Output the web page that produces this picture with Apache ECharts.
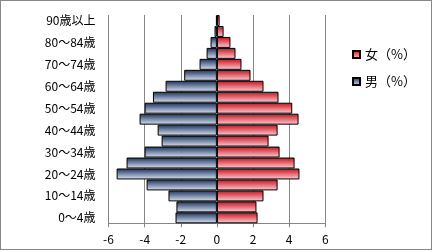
<!DOCTYPE html>
<html><head><meta charset="utf-8">
<script src="https://cdn.jsdelivr.net/npm/echarts@6/dist/echarts.min.js"></script>
<style>
html,body{margin:0;padding:0;background:#fff;}
#frame{position:absolute;left:0;top:0;width:432px;height:250px;box-sizing:border-box;border:1.5px solid #878787;}
#c{position:absolute;left:0;top:0;width:433px;height:252px;}
</style></head>
<body><div id="frame"></div><div id="c"></div>
<script>
const categories = ['0～4歳','5～9歳','10～14歳','15～19歳','20～24歳','25～29歳','30～34歳','35～39歳','40～44歳','45～49歳','50～54歳','55～59歳','60～64歳','65～69歳','70～74歳','75～79歳','80～84歳','85～89歳','90歳以上'];
const femaleValues = [2.25,2.19,2.58,3.36,4.57,4.30,3.47,2.86,3.36,4.52,4.17,3.41,2.58,1.86,1.36,1.03,0.75,0.37,0.15];
const maleValues = [-2.29,-2.24,-2.68,-3.89,-5.55,-5.0,-4.0,-3.06,-3.28,-4.28,-4.0,-3.54,-2.84,-1.81,-0.96,-0.57,-0.35,-0.13,-0.05];
const xTicks = [-6,-4,-2,0,2,4,6];
const legendNames = ['女（%）','男（%）'];

const font = '"Noto Sans CJK JP", sans-serif';
const chart = echarts.init(document.getElementById('c'));
const grad = (a,b) => new echarts.graphic.LinearGradient(0,0,0,1,[{offset:0,color:a},{offset:1,color:b}]);
chart.setOption({
  animation:false,
  grid:{left:108.5,right:107.7,top:15,bottom:28.7},
  legend:{
    data:legendNames, orient:'vertical', left:347, top:43, itemWidth:7, itemHeight:7, itemGap:14,
    textStyle:{fontFamily:font,fontSize:13,color:'#000'}, icon:'rect'
  },
  xAxis:{
    type:'value', min:xTicks[0], max:xTicks[xTicks.length-1], interval:2,
    axisLine:{show:true,lineStyle:{color:'#868686',width:1}},
    axisTick:{show:true,length:4,lineStyle:{color:'#868686'}},
    splitLine:{show:true,lineStyle:{color:'#868686',width:1}},
    axisLabel:{fontFamily:font,fontSize:12,color:'#000',margin:10}
  },
  yAxis:{
    type:'category', data:categories,
    axisLine:{show:false}, axisTick:{show:false},
    axisLabel:{interval:1,fontFamily:font,fontSize:12,color:'#000',margin:13}
  },
  series:[
    {name:legendNames[0],type:'bar',stack:'p',data:femaleValues,barCategoryGap:'0%',
     itemStyle:{color:grad('#c80c1a','#f4d4d7'),borderColor:'#000',borderWidth:1}},
    {name:legendNames[1],type:'bar',stack:'p',data:maleValues,barCategoryGap:'0%',
     itemStyle:{color:grad('#17305f','#dfe4ef'),borderColor:'#000',borderWidth:1}}
  ]
});
</script></body></html>
